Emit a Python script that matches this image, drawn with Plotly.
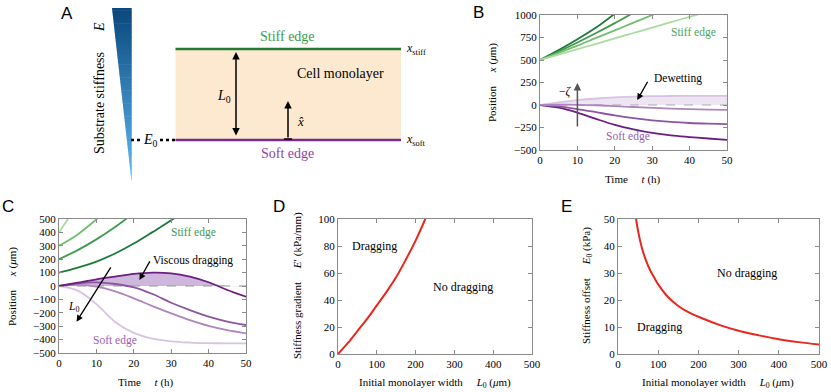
import numpy as np
import plotly.graph_objects as go

W, H = 831, 392

# ---- panel B: edge positions for several stiffness gradients ----
t_b = [0, 5, 10, 15, 20, 25, 30, 35, 40, 45, 50]
b_stiff = [
    [500, 610, 730, 860, 1015],
    [500, 595, 695, 800, 910, 1025],
    [500, 580, 660, 745, 830, 915, 1000, 1085],
    [500, 560, 620, 680, 740, 800, 860, 920, 980, 1040],
]
b_soft = [
    [0, -30, -85, -155, -220, -270, -310, -338, -356, -372, -388],
    [0, -15, -45, -80, -115, -145, -170, -188, -200, -208, -213],
    [0, 3, 2, -3, -12, -22, -32, -40, -46, -51, -55],
    [0, 30, 55, 72, 85, 93, 98, 100, 101, 102, 102],
]

# ---- panel C: edge positions for several initial widths ----
t_c = [0, 5, 10, 15, 20, 25, 30, 35, 40, 45, 50]
c_stiff_t = [
    [0, 5, 10, 15, 20, 25, 30, 35],
    [0, 5, 10, 15, 20],
    [0, 5, 10, 15],
    [0, 2.5, 5],
]
c_stiff = [
    [100, 137, 182, 243, 317, 402, 490, 590],
    [200, 268, 348, 440, 545],
    [300, 385, 497, 620],
    [400, 505, 610],
]
c_soft = [
    [0, 25, 50, 70, 90, 100, 95, 70, 28, -30, -80],
    [0, 20, 27, 15, -10, -60, -125, -180, -228, -265, -291],
    [0, 8, -5, -40, -92, -150, -204, -255, -298, -330, -353],
    [0, -35, -135, -268, -350, -393, -413, -422, -426, -428, -428],
]

# ---- panel D: critical stiffness gradient ----
d_L0 = [0, 25, 50, 75, 100, 125, 150, 175, 200, 225]
d_grad = [0, 8, 17, 26, 36, 46, 57, 70, 84, 100]

# ---- panel E: critical stiffness offset ----
e_L0 = [45, 50, 60, 70, 80, 90, 100, 125, 150, 175, 200, 250, 300, 350, 400, 450, 500]
e_off = [50, 45.5, 39, 34.5, 31, 28.3, 25.8, 21, 17.8, 15.5, 13.8, 10.9, 8.6, 6.9, 5.5, 4.4, 3.5]

greens = ["#1d7a38", "#3f9a4f", "#72bd70", "#aadb9f"]
purples = ["#6b1f80", "#8c55a2", "#ad86bd", "#d8c3e2"]
SERIF = "Liberation Serif"
SANS = "Liberation Sans"


def px(x):
    return x / W


def py(y):
    return 1 - y / H


fig = go.Figure()

# panel B traces
fig.add_trace(go.Scatter(x=t_b, y=b_soft[3], mode="lines", line=dict(color=purples[3], width=1.8, shape="spline"),
                         fill="tozeroy", fillcolor="rgba(200,170,215,0.3)", xaxis="x", yaxis="y"))
fig.add_trace(go.Scatter(x=[0, 50], y=[0, 0], mode="lines", line=dict(color="#aaaaaa", width=1, dash="dash"),
                         xaxis="x", yaxis="y"))
for i in range(3):
    fig.add_trace(go.Scatter(x=t_b, y=b_soft[i], mode="lines",
                             line=dict(color=purples[i], width=1.8, shape="spline"), xaxis="x", yaxis="y"))
for i, ys in enumerate(b_stiff):
    fig.add_trace(go.Scatter(x=t_b[:len(ys)], y=ys, mode="lines", line=dict(color=greens[i], width=1.8, shape="spline"),
                             xaxis="x", yaxis="y"))

# panel C traces
c_fill = np.maximum(np.array(c_soft[0]), 0)
fig.add_trace(go.Scatter(x=t_c, y=c_fill, mode="lines", line=dict(width=0, shape="spline"),
                         fill="tozeroy", fillcolor="rgba(160,110,185,0.5)", xaxis="x2", yaxis="y2"))
fig.add_trace(go.Scatter(x=[0, 50], y=[0, 0], mode="lines", line=dict(color="#999999", width=1, dash="dash"),
                         xaxis="x2", yaxis="y2"))
for i in range(3, -1, -1):
    fig.add_trace(go.Scatter(x=t_c, y=c_soft[i], mode="lines", line=dict(color=purples[i], width=1.8, shape="spline"),
                             xaxis="x2", yaxis="y2"))
for i, ys in enumerate(c_stiff):
    fig.add_trace(go.Scatter(x=c_stiff_t[i], y=ys, mode="lines", line=dict(color=greens[i], width=1.8, shape="spline"),
                             xaxis="x2", yaxis="y2"))

# panel D and E
fig.add_trace(go.Scatter(x=d_L0, y=d_grad, mode="lines", line=dict(color="#e8261e", width=2, shape="spline"),
                         xaxis="x3", yaxis="y3"))
fig.add_trace(go.Scatter(x=e_L0, y=e_off, mode="lines", line=dict(color="#e8261e", width=2, shape="spline"),
                         xaxis="x4", yaxis="y4"))

axis_style = dict(showline=True, linecolor="#8a8a8a", linewidth=1, mirror="ticks", ticks="inside", ticklen=4,
                  tickcolor="#8a8a8a", showgrid=False, zeroline=False, automargin=False,
                  tickfont=dict(family=SERIF, size=11, color="black"))

fig.update_layout(
    template="none",
    width=W, height=H, margin=dict(l=0, r=0, t=0, b=0, pad=0), autosize=False,
    font=dict(family=SERIF, size=11, color="black"),
    paper_bgcolor="white", plot_bgcolor="white", showlegend=False,
    xaxis=dict(domain=[px(540), px(727)], range=[0, 50], dtick=10, anchor="y", **axis_style),
    yaxis=dict(domain=[py(150), py(15)], range=[-500, 1000], dtick=250, anchor="x", **axis_style),
    xaxis2=dict(domain=[px(59), px(246)], range=[0, 50], dtick=10, anchor="y2", **axis_style),
    yaxis2=dict(domain=[py(353), py(219)], range=[-500, 500], dtick=100, anchor="x2", **axis_style),
    xaxis3=dict(domain=[px(338), px(532)], range=[0, 500], dtick=100, anchor="y3", **axis_style),
    yaxis3=dict(domain=[py(354), py(219)], range=[0, 100], dtick=20, anchor="x3", **axis_style),
    xaxis4=dict(domain=[px(618), px(819)], range=[0, 500], dtick=100, anchor="y4", **axis_style),
    yaxis4=dict(domain=[py(354), py(219)], range=[0, 50], dtick=10, anchor="x4", **axis_style),
)

ann = []


def text(x, y, s, size=12, color="black", family=SERIF, angle=0, xanchor="center"):
    ann.append(dict(x=px(x), y=py(y), xref="paper", yref="paper", text=s, showarrow=False, textangle=angle,
                    xanchor=xanchor, yanchor="middle", font=dict(family=family, size=size, color=color)))


def atext(ax_id, x, y, s, size=12, color="black"):
    ann.append(dict(x=x, y=y, xref="x" + ax_id, yref="y" + ax_id, text=s, showarrow=False,
                    font=dict(family=SERIF, size=size, color=color)))


def arrow(ax_id, x0, y0, x1, y1, color="black", width=1.3):
    ann.append(dict(x=x1, y=y1, ax=x0, ay=y0, xref="x" + ax_id, yref="y" + ax_id, axref="x" + ax_id,
                    ayref="y" + ax_id, text="", showarrow=True, arrowhead=2, arrowsize=1, arrowwidth=width,
                    arrowcolor=color))


# panel letters
text(67, 13, "A", size=17, family=SANS)
text(478, 12, "B", size=17, family=SANS)
text(8, 207, "C", size=17, family=SANS)
text(279, 207, "D", size=17, family=SANS)
text(566, 206, "E", size=17, family=SANS)

# axis titles
sp = "\u00a0" * 5
text(492, 83, "Position" + sp + "<i>x</i> (<i>μ</i>m)", size=11, angle=-90)
text(633, 179, "Time" + sp + "<i>t</i> (h)", size=11)
text(12, 287, "Position" + sp + "<i>x</i> (<i>μ</i>m)", size=11, angle=-90)
text(146, 382, "Time" + sp + "<i>t</i> (h)", size=11)
text(297, 286, "Stiffness gradient" + sp + "<i>E</i>′ (kPa/mm)", size=11, angle=-90)
text(435, 383, "Initial monolayer width" + sp + "<i>L</i><sub>0</sub> (<i>μ</i>m)", size=11)
text(587, 286, "Stiffness offset" + sp + "<i>E</i><sub>0</sub> (kPa)", size=11, angle=-90)
text(718, 383, "Initial monolayer width" + sp + "<i>L</i><sub>0</sub> (<i>μ</i>m)", size=11)

# panel B annotations
atext("", 41, 800, "Stiff edge", size=11.5, color="#4aa65a")
atext("", 23.5, -355, "Soft edge", size=11.5, color="#9b5cb2")
atext("", 37, 290, "Dewetting", size=11.5)
atext("", 6.8, 150, "−<i>ζ</i>", size=11.5)
arrow("", 10, -255, 10, 245, color="#555555", width=1.5)
arrow("", 29, 275, 26, 55)

# panel C annotations
atext("2", 36, 400, "Stiff edge", size=11.5, color="#3f9a4f")
atext("2", 15, -403, "Soft edge", size=11.5, color="#9b5cb2")
atext("2", 35.7, 194, "Viscous dragging", size=11.5)
atext("2", 4, -160, "<i>L</i><sub>0</sub>", size=11.5)
arrow("2", 24.5, 195, 21.5, 45)
arrow("2", 14.1, 150, 4.7, -266)

# panel D / E annotations
atext("3", 95, 80, "Dragging", size=12)
atext("3", 323, 50, "No dragging", size=12)
atext("4", 320, 30, "No dragging", size=12)
atext("4", 102, 10, "Dragging", size=12)

# panel A diagram
shapes = []
n = 80
y_top, y_bot = 8, 181
for i in range(n):
    y0 = y_top + i * (y_bot - y_top) / n
    y1 = y_top + (i + 1.3) * (y_bot - y_top) / n
    y1 = min(y1, y_bot)
    xl0 = 112 + 19.5 * (y0 - y_top) / (y_bot - y_top)
    xl1 = 112 + 19.5 * (y1 - y_top) / (y_bot - y_top)
    f = i / (n - 1)
    c = (int(10 + f * 85), int(72 + f * 115), int(125 + f * 118))
    path = "M {} {} L {} {} L {} {} L {} {} Z".format(px(xl0), py(y0), px(131.7), py(y0), px(131.7), py(y1),
                                                    px(xl1), py(y1))
    shapes.append(dict(type="path", xref="paper", yref="paper", path=path, fillcolor="rgb({},{},{})".format(*c),
                       line=dict(width=0)))

shapes.append(dict(type="rect", xref="paper", yref="paper", x0=px(175.5), x1=px(401), y0=py(140), y1=py(49),
                   fillcolor="#fde9cf", line=dict(width=0), layer="below"))
shapes.append(dict(type="line", xref="paper", yref="paper", x0=px(175.5), x1=px(401), y0=py(49), y1=py(49),
                   line=dict(color="#237a35", width=2.5)))
shapes.append(dict(type="line", xref="paper", yref="paper", x0=px(175.5), x1=px(401), y0=py(140), y1=py(140),
                   line=dict(color="#7a2a8c", width=2.5)))
shapes.append(dict(type="line", xref="paper", yref="paper", x0=px(131), x1=px(141), y0=py(140), y1=py(140),
                   line=dict(color="black", width=2.5, dash="dot")))
shapes.append(dict(type="line", xref="paper", yref="paper", x0=px(160), x1=px(175), y0=py(140), y1=py(140),
                   line=dict(color="black", width=2.5, dash="dot")))
shapes.append(dict(type="line", xref="paper", yref="paper", x0=px(284), x1=px(292), y0=py(139), y1=py(139),
                   line=dict(color="black", width=1.5)))

# L0 double arrow and x-hat arrow
ann.append(dict(x=px(236), y=py(52), xref="paper", yref="paper", ax=0, ay=85, text="", showarrow=True,
                arrowhead=2, arrowsize=1, arrowwidth=1.5, arrowside="end+start", arrowcolor="black"))
ann.append(dict(x=px(288), y=py(101), xref="paper", yref="paper", ax=0, ay=38, text="", showarrow=True,
                arrowhead=2, arrowsize=1, arrowwidth=1.5, arrowcolor="black"))

text(287, 36, "Stiff edge", size=14, color="#3a9a4e")
text(287, 154, "Soft edge", size=14, color="#8e44a6")
text(340, 73, "Cell monolayer", size=14)
text(224, 96, "<i>L</i><sub>0</sub>", size=14)
text(300, 121, "<i>x̂</i>", size=13)
text(404, 49, "<i>x</i><sub>stiff</sub>", size=12, xanchor="left")
text(404, 140, "<i>x</i><sub>soft</sub>", size=12, xanchor="left")
text(150, 140, "<i>E</i><sub>0</sub>", size=14)
text(99, 88, "Substrate stiffness" + "\u00a0" * 6 + "<i>E</i>", size=14, angle=-90)

fig.update_layout(annotations=ann, shapes=shapes)

fig.write_html("out.html", config={"displayModeBar": False},
               post_script="document.body.style.margin='0px';")
